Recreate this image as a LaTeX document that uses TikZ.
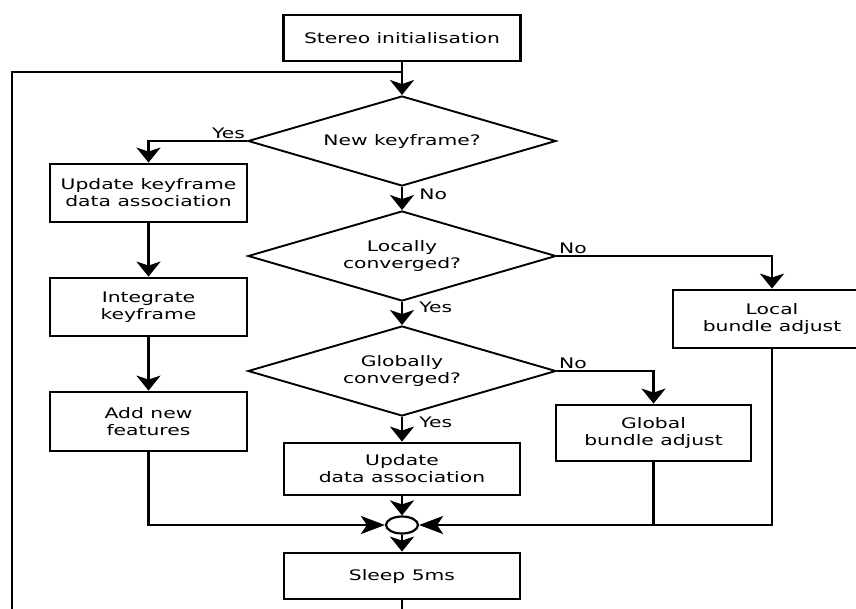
\documentclass[tikz,border=0pt]{standalone}
\usepackage{fontspec}
\setmainfont[FakeStretch=1.4]{DejaVu Sans}
\usetikzlibrary{shapes.geometric,arrows.meta}

\begin{document}
\begin{tikzpicture}[x=1pt,y=-1pt,
        font=\fontsize{14.5}{17}\selectfont,
        box/.style={draw,line width=2.8pt,align=center,inner sep=0pt},
        decision/.style={draw,diamond,line width=1.9pt,align=center,inner sep=0pt,
            aspect=3.4,minimum width=308pt,minimum height=90pt},
        junction/.style={draw,ellipse,line width=2.2pt,inner sep=0pt,
            minimum width=32pt,minimum height=17pt},
        wire/.style={line width=2.8pt},
        flow/.style={wire,-{Stealth[length=15pt,width=24pt,inset=4pt]}},
        flowh/.style={wire,-{Stealth[length=24pt,width=18pt,inset=6pt]}},
        lbl/.style={inner sep=2pt}]
    \useasboundingbox (0,0) rectangle (856,608);
    % main column
    \node[box,minimum width=237pt,minimum height=46pt] (stereo) at (402,38) {Stereo initialisation};
    \node[decision] (newkf) at (402,141) {New keyframe?};
    \node[decision] (local) at (402,256) {Locally\\converged?};
    \node[decision] (global) at (402,371) {Globally\\converged?};
    \node[box,minimum width=236pt,minimum height=52pt] (upddata) at (402,469) {Update\\data association};
    \node[junction] (join) at (402,525) {};
    \node[box,minimum width=236pt,minimum height=46pt] (sleep) at (402,576) {Sleep 5ms};
    % keyframe branch
    \node[box,minimum width=197pt,minimum height=58pt] (updkf) at (148.5,193) {Update keyframe\\data association};
    \node[box,minimum width=197pt,minimum height=58pt] (integ) at (148.5,307) {Integrate\\keyframe};
    \node[box,minimum width=197pt,minimum height=59pt] (addfeat) at (148.5,421.5) {Add new\\features};
    % bundle adjustment
    \node[box,minimum width=198pt,minimum height=58pt] (localba) at (772,319) {Local\\bundle adjust};
    \node[box,minimum width=195pt,minimum height=56pt] (globalba) at (653.5,433) {Global\\bundle adjust};
    \coordinate (loop) at (402,72);
    \coordinate (loopleft) at (12,72);

    \draw[flow] (stereo) -- (newkf);
    \draw[wire] (sleep.south) -- ++(0,64) -| (loopleft) -- (loop);
    \draw[flow] (newkf.west) -| (updkf.north);
    \node[lbl,anchor=south east] (yes1) at (newkf.west) {Yes};
    \draw[flow] (newkf) -- node[lbl,pos=0.3,anchor=west,xshift=14pt] (no1) {No} (local);
    \draw[flow] (local) -- node[lbl,pos=0.25,anchor=west,xshift=14pt] (yes2) {Yes} (global);
    \draw[flow] (global) -- node[lbl,pos=0.22,anchor=west,xshift=14pt] (yes3) {Yes} (upddata);
    \draw[flow] (local.east) -| (localba.north);
    \node[lbl,anchor=south west] (no2) at (local.east) {No};
    \draw[flow] (global.east) -| (globalba.north);
    \node[lbl,anchor=south west] (no3) at (global.east) {No};
    \draw[flow] (updkf) -- (integ);
    \draw[flow] (integ) -- (addfeat);
    % merge
    \draw[flow] (upddata) -- (join);
    \draw[flowh] (addfeat.south) |- (join.west);
    \draw[flowh] (localba.south) |- (join.east);
    \draw[wire] (globalba.south) -- (globalba.south |- join);
    \draw[flow] (join) -- (sleep);
\end{tikzpicture}
\end{document}
